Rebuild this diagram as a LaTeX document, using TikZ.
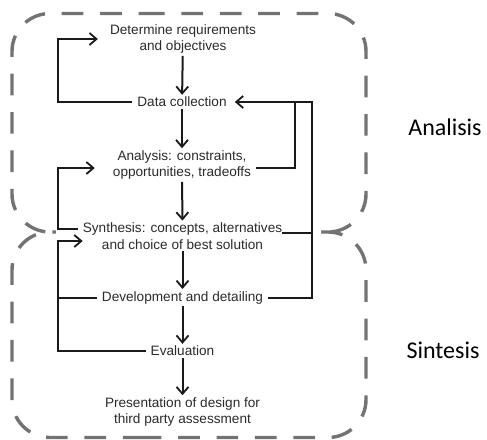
\documentclass[tikz,border=0pt]{standalone}
\usepackage{fontspec}
\setmainfont{Liberation Sans}
\newfontfamily\calfont{Carlito}
\usetikzlibrary{arrows.meta}
\definecolor{txt}{HTML}{2B2B2B}
\definecolor{ln}{HTML}{1A1A1A}
\definecolor{dsh}{HTML}{737373}
\begin{document}
\begin{tikzpicture}[x=1pt,y=-1pt,
  stepnode/.style={font=\fontsize{13.6}{16.5}\selectfont, text=txt, align=center, inner xsep=5pt, inner ysep=2pt},
  conn/.style={draw=ln, line width=2pt},
  arr/.style={conn, -{Straight Barb[length=7pt,width=12pt,line width=1.8pt]}},
  region/.style={draw=dsh, line width=3.4pt, dash pattern=on 21.7pt off 16.7pt, rounded corners=38pt},
  side/.style={font=\calfont\fontsize{24}{28}\selectfont, text=black}]
\useasboundingbox (0,0) rectangle (487,439);
% dashed regions
\draw[region] (105,13.5) -- (366,13.5) -- (366,232) -- (12,232) -- (12,13.5) -- cycle;
\draw[region] (101.7,437.5) -- (366,437.5) -- (366,232) -- (12,232) -- (12,437.5) -- cycle;
% white background of the pasted diagram
\fill[white] (56,20) rectangle (315,430);
% steps
\node[stepnode] (det) at (183,39) {Determine requirements\\and objectives};
\node[stepnode] (dc) at (182,102) {Data collection};
\node[stepnode] (an) at (182,165) {Analysis: constraints,\\opportunities, tradeoffs};
\node[stepnode] (syn) at (182.5,236) {Synthesis: concepts, alternatives\\and choice of best solution};
\node[stepnode] (dev) at (182.5,297.5) {Development and detailing};
\node[stepnode] (ev) at (182.5,351) {Evaluation};
\node[stepnode] (pres) at (182.5,412) {Presentation of design for\\third party assessment};
\coordinate (Lx) at (58,0);
\coordinate (Rx) at (312,0);
\coordinate (Rm) at (295,0);
% main flow
\draw[arr] (det) -- (dc);
\draw[arr] (dc) -- (an);
\draw[arr] (an) -- (syn);
\draw[arr] (syn) -- (dev);
\draw[arr] (dev) -- (ev);
\draw[arr] (ev) -- (pres);
% left loops
\draw[arr] (dc.west) -- (dc.west -| Lx) |- ([xshift=-7pt]det.west);
\draw[arr] ([yshift=7pt]syn.west) -- ([yshift=7pt]syn.west -| Lx) |- ([xshift=-13pt,yshift=-3pt]an.west);
\draw[conn] (dev.west) -- (dev.west -| Lx);
\draw[arr] (ev.west) -- (ev.west -| Lx) |- ([xshift=5pt,yshift=-5pt]syn.west);
% right loops
\draw[arr] (dev.east) -- (dev.east -| Rx) -- (dc.east -| Rx) -- ([xshift=3pt]dc.east);
\draw[conn] ([xshift=-5pt,yshift=3pt]syn.east) -- ([yshift=3pt]syn.east -| Rx);
\draw[conn] ([yshift=-3pt]an.east) -- ([yshift=-3pt]an.east -| Rm) -- (dc.east -| Rm);
% region labels
\node[side] (lA) at (445,127) {Analisis};
\node[side] (lS) at (443,350) {Sintesis};
\end{tikzpicture}
\end{document}
